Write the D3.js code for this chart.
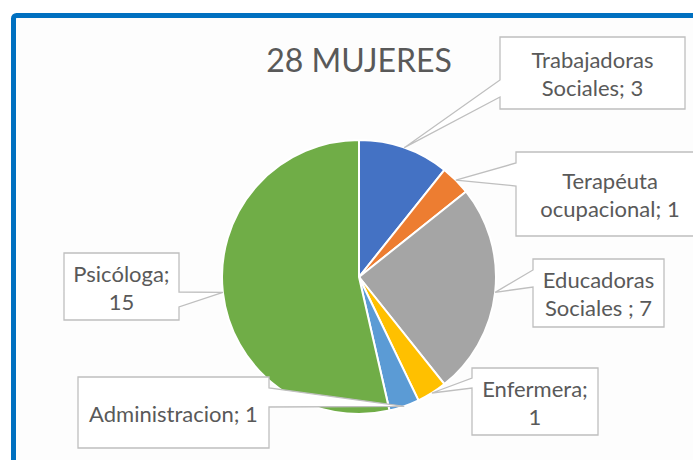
<!DOCTYPE html>
<html><head><meta charset="utf-8">
<script src="https://cdn.jsdelivr.net/npm/d3@7"></script>
<style>html,body{margin:0;padding:0;background:#fff;}svg{display:block;}</style>
</head><body>
<svg id="chart" width="693" height="460"></svg>
<script>
// Data
const categories = ["Trabajadoras Sociales", "Terapéuta ocupacional", "Educadoras Sociales", "Enfermera", "Administracion", "Psicóloga"];
const values = [3, 1, 7, 1, 1, 15];
const labelLines = [["Trabajadoras", "Sociales; 3"], ["Terapéuta", "ocupacional; 1"], ["Educadoras", "Sociales ; 7"], ["Enfermera;", "1"], ["Administracion; 1"], ["Psicóloga;", "15"]];
const title = "28 MUJERES";
const colors = ["#4472C4", "#ED7D31", "#A5A5A5", "#FFC000", "#5B9BD5", "#70AD47"];

// Layout of callout boxes: [x0, y0, x1, y1, side of pointer, base start, base end]
const boxLayout = [
  [500, 37, 685, 109, "left", 80, 97],
  [516, 152, 706, 236, "left", 163, 186],
  [533, 259, 664, 327, "left", 270, 287],
  [472, 368, 598, 435, "left", 378, 388],
  [78, 377, 269, 448, "right", 388, 407],
  [64, 253, 179, 320, "right", 292, 307]
];

const svg = d3.select("#chart");
const font = "Lato, 'Open Sans', sans-serif";
const textColor = "#595959";

// frame
svg.append("rect").attr("x", 13.5).attr("y", 15.5).attr("width", 720).attr("height", 480)
  .attr("rx", 3).attr("fill", "#fdfdfd").attr("stroke", "#0070C0").attr("stroke-width", 5);

// title
svg.append("text").attr("x", 359).attr("y", 72).attr("text-anchor", "middle")
  .attr("font-family", font).attr("font-size", 32).attr("fill", textColor).text(title);

const cx = 359, cy = 277, r = 137;
const pie = d3.pie().sort(null).value(d => d)(values);
const arc = d3.arc().innerRadius(0).outerRadius(r);
const g = svg.append("g").attr("transform", `translate(${cx},${cy})`);
g.selectAll("path").data(pie).join("path")
  .attr("d", arc).attr("fill", (d, i) => colors[i])
  .attr("stroke", "#fff").attr("stroke-width", 2).attr("stroke-linejoin", "round");

// callouts
pie.forEach((d, i) => {
  const [x0, y0, x1, y1, side, b0, b1] = boxLayout[i];
  const mid = (d.startAngle + d.endAngle) / 2;
  const px = cx + r * Math.sin(mid), py = cy - r * Math.cos(mid);
  let p;
  if (side === "left") {
    p = `M${x0},${y0}L${x1},${y0}L${x1},${y1}L${x0},${y1}L${x0},${b1}L${px},${py}L${x0},${b0}Z`;
  } else {
    p = `M${x0},${y0}L${x1},${y0}L${x1},${b0}L${px},${py}L${x1},${b1}L${x1},${y1}L${x0},${y1}Z`;
  }
  svg.append("path").attr("d", p).attr("fill", "#fff").attr("stroke", "#BFBFBF")
    .attr("stroke-width", 1.3).attr("stroke-linejoin", "miter");
  const lines = labelLines[i];
  const tx = (x0 + Math.min(x1, 704)) / 2;
  const lh = 28;
  const midY = (y0 + y1) / 2;
  const t = svg.append("text").attr("text-anchor", "middle").attr("font-family", font)
    .attr("font-size", 22).attr("fill", textColor);
  lines.forEach((s, k) => {
    t.append("tspan").attr("x", tx)
      .attr("y", midY + 9 + (k - (lines.length - 1) / 2) * lh).text(s);
  });
});
</script>
</body></html>
